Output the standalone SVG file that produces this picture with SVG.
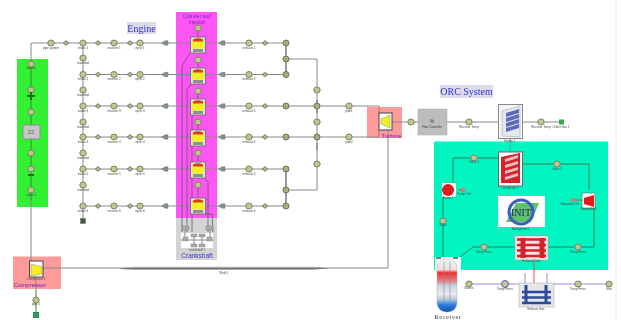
<svg xmlns="http://www.w3.org/2000/svg" width="621" height="320" viewBox="0 0 621 320">
<style>
text{font-family:"Liberation Sans",Arial,sans-serif;font-size:3px;fill:#444;text-anchor:middle}
.h{font-family:"Liberation Serif",serif;fill:#3333cc}
.p{font-family:"Liberation Sans",sans-serif;fill:#6a20c8}
.l{fill:none;stroke:#8a8a8a;stroke-width:1}
.d{fill:none;stroke:#5b5b6b;stroke-width:.8}
.g{fill:none;stroke:#2e8b2e;stroke-width:1}
.t{fill:none;stroke:#2f8060;stroke-width:1}
.b{fill:none;stroke:#8f8fe8;stroke-width:1}
</style>
<defs>
<filter id="bl" x="0" y="0" width="621" height="320" filterUnits="userSpaceOnUse"><feGaussianBlur stdDeviation="0.5"/></filter>
<g id="e"><ellipse rx="3.2" ry="3" fill="#c6c48c" stroke="#7a8468" stroke-width="1"/></g>
<g id="s"><path d="M-3 0L0-2.600L3 0L0 2.600Z" fill="#8c9a7a" stroke="#75806a" stroke-width=".6"/><circle r="1" fill="#c6c48c"/></g>
<g id="a"><path d="M-3.500 0L0-2.200L3 -2.200V2.200L0 2.200Z" fill="#7f918a" stroke="#6f7f7a" stroke-width=".5"/></g>
<g id="j"><circle r="3" fill="#a8ac7a" stroke="#68745a" stroke-width="1"/></g>
<g id="c">
<rect x="-7.500" y="-8" width="15" height="16" fill="#e2e2e2" stroke="#6a6a6a" stroke-width=".8"/>
<rect x="-6" y="-5.500" width="12" height="9" fill="#f4ee20"/>
<path d="M-5-5.500Q0-8 5-5.500V-3.500H-5Z" fill="#d83a20"/>
<rect x="-5" y="4" width="10" height="3" fill="#909090"/>
</g>
<linearGradient id="rg" x1="0" y1="0" x2="0" y2="1"><stop offset="0" stop-color="#f4f4f4"/><stop offset=".2" stop-color="#f0e0e0"/><stop offset=".26" stop-color="#ee2c2c"/><stop offset=".42" stop-color="#e08888"/><stop offset=".5" stop-color="#c4d4e6"/><stop offset=".66" stop-color="#ececec"/><stop offset=".76" stop-color="#b8c8dc"/><stop offset=".86" stop-color="#2e7fe0"/><stop offset="1" stop-color="#1050a8"/></linearGradient>
<linearGradient id="sh" x1="0" y1="0" x2="0" y2="1"><stop offset="0" stop-color="#d8d8d8"/><stop offset=".6" stop-color="#707070"/><stop offset="1" stop-color="#c4c4c4"/></linearGradient>
</defs>
<rect width="621" height="320" fill="#fff"/>
<g filter="url(#bl)">
<g id="zones">
<rect x="17" y="59" width="31" height="148" fill="#33f033"/>
<rect x="176" y="12" width="41" height="206" fill="#ff55f5"/>
<rect x="176" y="218" width="41" height="42" fill="#d4d4d4"/>
<rect x="13" y="256.500" width="48" height="32.500" fill="#ff9a9a"/>
<rect x="367" y="107" width="35" height="31" fill="#ff9a9a"/>
<rect x="434" y="141.500" width="174" height="128.500" fill="#00f5c0"/>
<rect x="435" y="257" width="26" height="14" fill="#fff"/>
<rect x="615.500" y="0" width="1" height="320" fill="#ececec"/>
</g>
<g id="connectors">
<path class="l" d="M31 64V43H197M83 43V221M83 74.500H197M83 106H197M83 137H197M83 169H197M83 206H197"/>
<path class="g" d="M31 60V200"/>
<path class="l" d="M31 200V262M36 277V290"/>
<path class="g" d="M36 290V315"/>
<path class="l" d="M204 43H286M204 74.500H286M204 106H379V113M204 137H379V130M204 169H286M204 206H286M286 43V74.500M286 59H317V190H286M286 169V206"/>
<path class="d" d="M286 46V72M286 172V204M317 100V113M317 143V150"/>
<path class="l" d="M388 130V268"/>
<path class="d" d="M198 28V37M198 60V68M198 91V99M198 122V130M198 153V161M198 185V197"/>
<path class="d" d="M192 50L182 66V232M192 82L187 90V232M192 113V232M204 178L208 182V232M205 214H212L213 232"/>
<path class="l" d="M392 122H498M523 122H562"/>
<path class="t" d="M498 158H453V192M443 197V257M523 164H589V190M594 208V247H578M548 247H578M515 247H484L473 247L460 257"/>
<path d="M510 139V152" stroke="#4aa" fill="none"/>
<path class="b" d="M469 284H525V273M609 284H547V273"/>
<path d="M534 260V283" stroke="#e85050" stroke-width="1" fill="none"/>
<path d="M40 268H388" stroke="#8a8a8a" stroke-width="1" fill="none"/>
<path d="M118 269L135 266.500H313L330 268L313 270H135Z" fill="url(#sh)"/>
<path d="M463 190H458" stroke="#d44" fill="none"/>
<path d="M573 200H582" stroke="#d44" fill="none"/>
</g>
<g id="labels">
<rect x="127" y="22" width="29" height="12" fill="#dcdcec"/>
<text class="h" x="141.500" y="31.500" style="font-size:10px">Engine</text>
<rect x="440" y="85" width="53" height="13" fill="#dcdcec"/>
<text class="h" x="466.500" y="95" style="font-size:10px">ORC System</text>
<text class="p" x="197" y="18" style="font-size:5px">Cylinder and</text>
<text class="p" x="197" y="24" style="font-size:5px">Injector</text>
<text class="p" x="30" y="287" style="font-size:6px">Compressor</text>
<text class="p" x="391.500" y="138" style="font-size:6px">Turbine</text>
<text class="h" x="197" y="258" style="font-size:6.500px;font-family:'Liberation Sans',sans-serif">Crankshaft</text>
<text x="224" y="274">Shaft 1</text>
</g>
<g id="row1"><use href="#e" x="51" y="43"/><text x="51" y="49">pipe system</text><use href="#s" x="66" y="43"/><use href="#e" x="83" y="43"/><text x="83" y="49">intake 1</text><use href="#s" x="98" y="43"/><use href="#e" x="114" y="43"/><text x="114" y="49">receiver 1</text><use href="#s" x="130" y="43"/><use href="#e" x="140" y="43"/><text x="140" y="49">inject 1</text><use href="#a" x="165" y="43"/><use href="#a" x="222" y="43"/><use href="#e" x="249" y="43"/><text x="249" y="49">exhaust 1</text><use href="#s" x="265" y="43"/><use href="#j" x="286" y="43"/></g>
<g id="row2"><use href="#e" x="83" y="74.500"/><text x="83" y="80">intake 2</text><use href="#s" x="98" y="74.500"/><use href="#e" x="114" y="74.500"/><text x="114" y="80">receiver 2</text><use href="#s" x="130" y="74.500"/><use href="#e" x="140" y="74.500"/><text x="140" y="80">inject 2</text><use href="#a" x="165" y="74.500"/><use href="#a" x="222" y="74.500"/><use href="#e" x="249" y="74.500"/><text x="249" y="80">exhaust 2</text><use href="#s" x="265" y="74.500"/><use href="#j" x="286" y="74.500"/></g>
<g id="row3"><use href="#e" x="83" y="106"/><text x="83" y="111.500">intake 3</text><use href="#s" x="98" y="106"/><use href="#e" x="114" y="106"/><text x="114" y="111.500">receiver 3</text><use href="#s" x="130" y="106"/><use href="#e" x="140" y="106"/><text x="140" y="111.500">inject 3</text><use href="#a" x="165" y="106"/><use href="#a" x="222" y="106"/><use href="#e" x="249" y="106"/><text x="249" y="111.500">exhaust 3</text><use href="#s" x="265" y="106"/><use href="#j" x="286" y="106"/><use href="#j" x="317" y="106"/><use href="#e" x="349" y="106"/><text x="349" y="111.500">pipe1</text></g>
<g id="row4"><use href="#e" x="83" y="137"/><text x="83" y="142.500">intake 4</text><use href="#s" x="98" y="137"/><use href="#e" x="114" y="137"/><text x="114" y="142.500">receiver 4</text><use href="#s" x="130" y="137"/><use href="#e" x="140" y="137"/><text x="140" y="142.500">inject 4</text><use href="#a" x="165" y="137"/><use href="#a" x="222" y="137"/><use href="#e" x="249" y="137"/><text x="249" y="142.500">exhaust 4</text><use href="#s" x="265" y="137"/><use href="#j" x="286" y="137"/><use href="#j" x="317" y="137"/><use href="#e" x="349" y="137"/><text x="349" y="142.500">pipe2</text></g>
<g id="row5"><use href="#e" x="83" y="169"/><text x="83" y="174.500">intake 5</text><use href="#s" x="98" y="169"/><use href="#e" x="114" y="169"/><text x="114" y="174.500">receiver 5</text><use href="#s" x="130" y="169"/><use href="#e" x="140" y="169"/><text x="140" y="174.500">inject 5</text><use href="#a" x="165" y="169"/><use href="#a" x="222" y="169"/><use href="#e" x="249" y="169"/><text x="249" y="174.500">exhaust 5</text><use href="#s" x="265" y="169"/><use href="#j" x="286" y="169"/></g>
<g id="row6"><use href="#e" x="83" y="206"/><text x="83" y="211.500">intake 6</text><use href="#s" x="98" y="206"/><use href="#e" x="114" y="206"/><text x="114" y="211.500">receiver 6</text><use href="#s" x="130" y="206"/><use href="#e" x="140" y="206"/><text x="140" y="211.500">inject 6</text><use href="#a" x="165" y="206"/><use href="#a" x="222" y="206"/><use href="#e" x="249" y="206"/><text x="249" y="211.500">exhaust 6</text><use href="#s" x="265" y="206"/><use href="#j" x="286" y="206"/></g>
<g id="intake-manifold"><use href="#e" x="83" y="58"/><text x="83" y="64">manifold</text><use href="#e" x="83" y="90"/><text x="83" y="96">manifold</text><use href="#e" x="83" y="122"/><text x="83" y="128">manifold</text><use href="#e" x="83" y="153"/><text x="83" y="159">manifold</text><use href="#e" x="83" y="185"/><text x="83" y="191">manifold</text><rect x="80.500" y="218.500" width="5" height="5" fill="#3f5f38" stroke="#666" stroke-width=".5"/></g>
<g id="exhaust-manifold"><use href="#j" x="286" y="59"/><use href="#j" x="286" y="190"/><use href="#e" x="317" y="90"/><use href="#e" x="317" y="122"/><use href="#e" x="317" y="164"/></g>
<g id="cylinders"><use href="#c" x="198" y="45"/><use href="#c" x="198" y="76"/><use href="#c" x="198" y="107"/><use href="#c" x="198" y="138"/><use href="#c" x="198" y="170"/><use href="#c" x="198" y="206"/>
<use href="#e" x="198" y="28"/><use href="#e" x="198" y="60"/><use href="#e" x="198" y="91"/><use href="#e" x="198" y="122"/><use href="#e" x="198" y="153"/><use href="#e" x="198" y="185"/></g>
<g id="crankshaft"><rect x="181" y="233" width="32" height="15" fill="#fff"/><path d="M185 227V240H210V227M194 236V246M202 236V246M185 240H181M210 240H214" stroke="#888" fill="none"/><g fill="#aaa" stroke="#777" stroke-width=".4"><rect x="182" y="226" width="7" height="4"/><rect x="206" y="226" width="7" height="4"/><rect x="191" y="234" width="6" height="3"/><rect x="199" y="234" width="6" height="3"/><rect x="183" y="237" width="5" height="4"/><rect x="207" y="237" width="5" height="4"/><rect x="191" y="244" width="6" height="3"/><rect x="199" y="244" width="6" height="3"/></g><text x="197" y="251">crankshaft 1</text></g>
<g id="green-loop"><use href="#e" x="31" y="64"/><text x="31" y="69">radiator</text><use href="#e" x="31" y="90"/><path d="M27 96H35M31 92V100" stroke="#1f6f1f" stroke-width="2"/><use href="#e" x="31" y="112"/><rect x="23" y="125" width="17" height="14" fill="#c6c6c6" stroke="#909090"/><text x="31" y="134" style="font-size:6px;fill:#666">22</text><use href="#e" x="31" y="153"/><use href="#e" x="31" y="169"/><path d="M28 175H34" stroke="#1f6f1f" stroke-width="2"/><use href="#e" x="31" y="190"/><text x="31" y="196">cooler 1</text></g>
<g id="compressor"><rect x="29.500" y="261" width="13.500" height="16" fill="#fff" stroke="#444"/><path d="M31 264L42 267V274L31 276Z" fill="#f4ee20" stroke="#888" stroke-width=".5"/><text x="36" y="279.500">Compressor 1</text><use href="#e" x="36" y="300"/><text x="36" y="305">pipe 1</text><rect x="33.500" y="312.500" width="5" height="5" fill="#30a040" stroke="#286"/></g>
<g id="turbine"><rect x="379" y="113" width="13" height="17" fill="#fff" stroke="#444"/><path d="M381 119L390 115V128L381 124Z" fill="#f4ee20" stroke="#888" stroke-width=".5"/></g>
<g id="orc-top"><use href="#e" x="411" y="122"/><rect x="418" y="109" width="29" height="26" fill="#bdbdbd" stroke="#a8a8a8" stroke-width=".5"/><text x="432" y="123" style="font-size:5px">%</text><text x="432" y="127.500">Flow Controller</text><use href="#e" x="469" y="122"/><text x="469" y="128">Recover Temp</text>
<rect x="498.500" y="104.500" width="24" height="34" fill="#f4f6fa" stroke="#888"/><path d="M502 111L520 106V137L502 136Z" fill="#e4e8ee" stroke="#999" stroke-width=".5"/><g fill="#5a6cb8"><path d="M506 113L519 109V113L506 117Z"/><path d="M506 118L519 114V118L506 122Z"/><path d="M506 123L519 119V123L506 127Z"/><path d="M506 128L519 124V128L506 132Z"/></g><text x="510" y="141.500">Heater 1</text>
<use href="#e" x="541" y="122"/><text x="541" y="128">Recover Temp</text><rect x="559" y="119.500" width="5" height="5" fill="#30b040"/><text x="561" y="128">Outlet Gas 1</text></g>
<g id="condenser"><use href="#e" x="474" y="158"/><text x="474" y="163">Valve 1</text><rect x="498.500" y="152" width="24" height="34" fill="#fff" stroke="#666"/><path d="M501 157L520 153V183H501Z" fill="#d8202a"/><g fill="#e8c0c0"><path d="M505 159L518 155V158L505 162Z"/><path d="M505 165L518 161V164L505 168Z"/><path d="M505 171L518 167V170L505 174Z"/><path d="M505 177L518 173V176L505 180Z"/></g><text x="510" y="189">Condenser 1</text><use href="#e" x="557" y="164"/><text x="557" y="170">Valve 2</text></g>
<g id="pump"><rect x="442" y="183" width="14" height="14" fill="#fff"/><circle cx="448" cy="190" r="6" fill="#e01a1a"/><circle cx="463" cy="190" r="2.200" fill="#e0707a"/><text x="448" y="199">Pump 1</text><text x="464" y="195">Pump Ctrl</text><use href="#e" x="443" y="221"/><text x="443" y="226">Valve</text></g>
<g id="init"><rect x="498" y="196" width="47" height="31" fill="#fff"/><path d="M506 222L516 203H539L531 222Z" fill="#5fbf6a"/><circle cx="521" cy="212" r="12" fill="none" stroke="#3a5fc0" stroke-width="3"/><text x="521" y="216" style="font-size:10px;fill:#1a2a66;font-family:'Liberation Serif',serif">INIT</text><text x="521" y="230">Refrigerant 1</text></g>
<g id="expander"><rect x="582" y="193" width="13" height="15" fill="#fff" stroke="#666" stroke-width=".6"/><path d="M584 198L594 195V207L584 204Z" fill="#e01a1a"/><circle cx="573" cy="200" r="2" fill="#e0707a"/><text x="570" y="205">Expander Ctrl</text><text x="589" y="210">Expander 1</text></g>
<g id="evaporator"><use href="#e" x="484" y="247"/><text x="484" y="253">Temp Press</text><rect x="515" y="236" width="33" height="24" fill="#f6e4e4" stroke="#aaa" stroke-width=".5"/><g stroke="#d4202a" fill="none"><path stroke-width="5" d="M523 238V258M542 238V258"/><path stroke-width="2.500" d="M517 239.500H546M517 245H546M517 250.500H546M517 256H546"/></g><text x="531.500" y="262">Exhaust Tube</text><use href="#e" x="578" y="247"/><text x="578" y="253">Temp Press</text></g>
<g id="receiver"><rect x="437" y="259" width="20" height="53" rx="9" fill="url(#rg)" stroke="#aab" stroke-width=".5"/><path d="M444 262V302M450 262V302" stroke="#889" stroke-width=".6" fill="none"/><path d="M436 258H441M453 258H458" stroke="#2f6050" stroke-width="1.500" fill="none"/><text x="448" y="319" style="font-size:6.500px;letter-spacing:.5px;fill:#445;font-family:'Liberation Serif',serif">Receiver</text></g>
<g id="exhaust"><use href="#e" x="469" y="284"/><text x="469" y="289">Source</text><circle cx="505" cy="284" r="3.500" fill="#c6c48c" stroke="#5060c8"/><text x="505" y="290">Temp Press</text>
<rect x="519" y="283" width="35" height="24" fill="#e6e6e6" stroke="#aaa" stroke-width=".5"/><g stroke="#2e4a9a" fill="none"><path stroke-width="3" d="M526 285V303M546 285V303"/><path stroke-width="2.500" d="M522 292H551M522 297.500H551M522 303H551"/></g><text x="536" y="310">Exhaust Gas</text>
<use href="#e" x="578" y="284"/><text x="578" y="290">Temp Press</text><use href="#e" x="609" y="284"/><text x="609" y="290">Sink</text></g>
</g>
</svg>
